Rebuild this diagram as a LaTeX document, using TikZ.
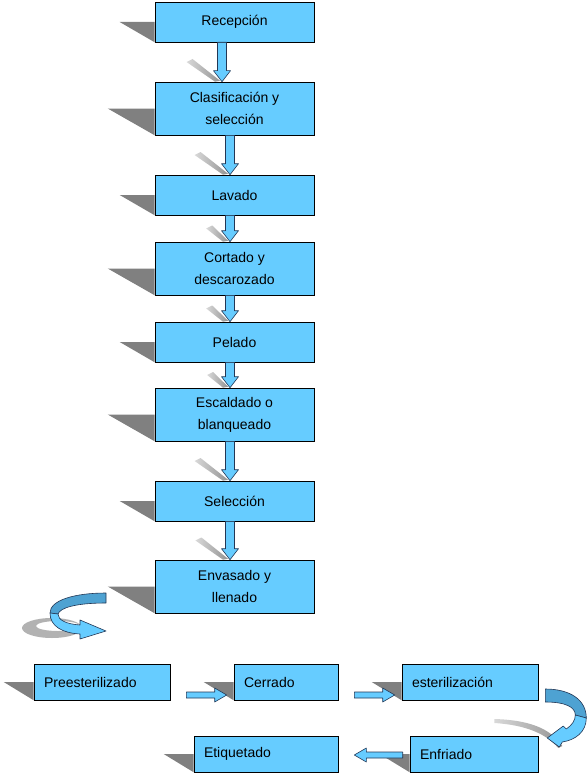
\documentclass[tikz,border=0pt]{standalone}
\usepackage{fontspec}
\setmainfont{Liberation Sans}
\usetikzlibrary{calc}
\usetikzlibrary{backgrounds}

\definecolor{boxblue}{RGB}{102,204,255}
\definecolor{backblue}{RGB}{78,162,210}
\definecolor{arrowedge}{RGB}{35,55,85}

%% grey cast of a box, to its left
\newcommand{\boxshadow}[2]{%
  \begin{pgfonlayer}{background}
    \fill[boxshade] ($(#1.west)+(-#2,0)$) -- (#1.west) -- (#1.south west) -- cycle;
  \end{pgfonlayer}}

%% block arrow pointing down, from box #1 to box #2, shifted by #3
\newcommand{\downarr}[3]{%
  \path (#1.south) ++(#3,0) coordinate (at)
        (#2.north) ++(#3,0) coordinate (ab);
  \begin{pgfonlayer}{background}
    \shade[arrshadow] let \p1=(at), \p2=(ab), \n1={\y1-\y2} in
      (\x1-0.9*\n1,\y1-0.5*\n1) -- (\x1-0.9*\n1+6,\y1-0.5*\n1+3)
      -- (\x2-2,\y2+1) -- (\x2-7,\y2) -- cycle;
  \end{pgfonlayer}
  \draw[blockarr] ($(at)+(-4.5,0)$) -- ($(ab)+(-4.5,-11)$) -- ++(-4,0)
    -- (ab) -- ++(8.5,-11) -- ++(-4,0) -- ($(at)+(4.5,0)$) -- cycle;}

%% block arrow sideways, from #1 to the tip #2, #3 = 1 right, -1 left
\newcommand{\sidearr}[3]{%
  \draw[blockarr] ($(#1)+(0,-3)$) -- ($(#2)+({-12*#3},-3)$) -- ++(0,-4)
    -- (#2) -- ($(#2)+({-12*#3},7)$) -- ++(0,-4) -- ($(#1)+(0,3)$) -- cycle;}

\begin{document}
\begin{tikzpicture}[x=1pt,y=-1pt,
    stepbox/.style={draw=black, fill=boxblue, line width=0.6pt,
      minimum width=159pt, minimum height=40pt, inner sep=0pt,
      align=center, font=\fontsize{14}{22}\selectfont},
    tallbox/.style={stepbox, minimum height=53pt},
    rowbox/.style={draw=black, fill=boxblue, line width=0.6pt,
      minimum height=36pt, inner xsep=10pt, inner ysep=0pt,
      text width=#1, align=left, font=\fontsize{14}{22}\selectfont},
    boxshade/.style={fill=gray},
    arrshadow/.style={left color=gray!30, right color=gray!85},
    blockarr/.style={fill=boxblue, draw=arrowedge, line width=0.6pt,
      line join=round}]
  \useasboundingbox (0,0) rectangle (587,776);

  %% The main column
  \node[stepbox] (rec)  at (234.5,22)    {Recepción};
  \node[tallbox] (clas) at (234.5,108.5) {Clasificación y\\selección};
  \node[stepbox] (lav)  at (234.5,195)   {Lavado};
  \node[tallbox] (cort) at (234.5,268.5) {Cortado y\\descarozado};
  \node[stepbox] (pel)  at (234.5,342)   {Pelado};
  \node[tallbox] (esc)  at (234.5,414.5) {Escaldado o\\blanqueado};
  \node[stepbox] (sel)  at (234.5,501)   {Selección};
  \node[tallbox] (env)  at (234.5,586.5) {Envasado y\\llenado};

  %% The two rows at the bottom
  \node[rowbox=116pt] (pre) at (102,682) {Preesterilizado};
  \node[rowbox=84pt]  (cer) at (286,682) {Cerrado};
  \node[rowbox=116pt] (est) at (470,682) {esterilización};
  \node[rowbox=124pt] (eti) at (266,754) {Etiquetado};
  \node[rowbox=108pt] (enf) at (474,754) {Enfriado};

  %% Shadows of the boxes
  \boxshadow{rec}{35}  \boxshadow{clas}{47}
  \boxshadow{lav}{35}  \boxshadow{cort}{47}
  \boxshadow{pel}{35}  \boxshadow{esc}{47}
  \boxshadow{sel}{35}  \boxshadow{env}{47}
  \boxshadow{pre}{30}  \boxshadow{cer}{30}
  \boxshadow{est}{30}  \boxshadow{eti}{30}
  \boxshadow{enf}{30}

  %% Arrows down the column
  \downarr{rec}{clas}{-12.5}
  \downarr{clas}{lav}{-4.5}
  \downarr{lav}{cort}{-4.5}
  \downarr{cort}{pel}{-4.5}
  \downarr{pel}{esc}{-4.5}
  \downarr{esc}{sel}{-4.5}
  \downarr{sel}{env}{-4.5}

  %% Turning arrow under the column
  \fill[gray!60, even odd rule] (52,628) ellipse (30 and 10)
                                (58,626) ellipse (22 and 5);
  \draw[blockarr, fill=backblue] (106,593) .. controls (75,593) and (50,600) .. (50,613)
    -- (58,614) .. controls (60,608) and (75,603) .. (106,603) -- cycle;
  \draw[blockarr] (50,613) .. controls (50,626) and (62,633) .. (80,634)
    -- (80,639) -- (106,631) -- (80,620) -- (80,625)
    .. controls (66,624) and (58,620) .. (58,614) -- cycle;

  %% Arrows along the rows
  \coordinate (s1) at ($(pre.east)+(16,13)$);
  \coordinate (e1) at ($(cer.west)+(-7,13)$);
  \coordinate (s2) at ($(cer.east)+(16,13)$);
  \coordinate (e2) at ($(est.west)+(-7,13)$);
  \coordinate (s3) at ($(enf.west)+(-7,1)$);
  \coordinate (e3) at ($(eti.east)+(16,1)$);
  \sidearr{s1}{e1}{1}
  \sidearr{s2}{e2}{1}
  \sidearr{s3}{e3}{-1}

  %% Bend from esterilizacion down to Enfriado
  \begin{scope}[shift={(est.east)}]
    \shade[arrshadow] (-44,37) .. controls (-10,38) and (12,46) .. (24,64)
      -- (20,66) .. controls (8,52) and (-12,43) .. (-44,41) -- cycle;
    \draw[blockarr, fill=backblue] (7,7) .. controls (32,7) and (48,18) .. (48,36)
      -- (37,33) .. controls (37,25) and (27,20) .. (7,20) -- cycle;
    \draw[blockarr] (48,36) .. controls (48,50) and (37,58) .. (24,60)
      -- (21,65) -- (9,56) -- (25,44) -- (28,47)
      .. controls (34,43) and (37,38) .. (37,33) -- cycle;
  \end{scope}
\end{tikzpicture}
\end{document}
